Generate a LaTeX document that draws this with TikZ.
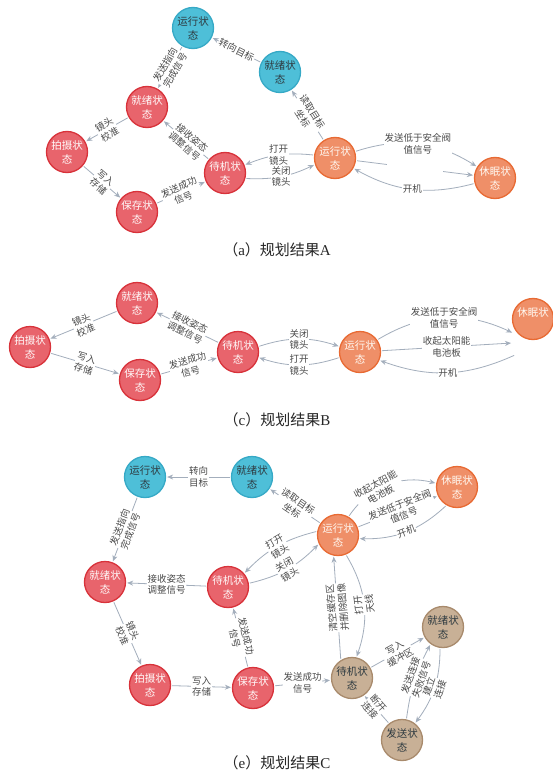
\documentclass[tikz,border=0pt]{standalone}
\usepackage{fontspec}
\setmainfont{Liberation Serif}
\newfontfamily\cjk{Noto Sans CJK SC}
\usetikzlibrary{arrows.meta}
\definecolor{tealF}{HTML}{4EBFD8}
\definecolor{tealB}{HTML}{36A9C6}
\definecolor{redF}{HTML}{E8646C}
\definecolor{redB}{HTML}{D8323A}
\definecolor{orgF}{HTML}{EF8F68}
\definecolor{orgB}{HTML}{E86A33}
\definecolor{tanF}{HTML}{C8B096}
\definecolor{tanB}{HTML}{A88A6C}
\definecolor{edgeC}{HTML}{A3AEBC}
\definecolor{labC}{HTML}{4A4A4A}
\definecolor{txtD}{HTML}{2E3A40}
\begin{document}
\begin{tikzpicture}[x=1pt,y=-1pt,
  st/.style={circle,minimum size=41pt,inner sep=0pt,line width=1.3pt,align=center,
    font=\cjk\fontsize{10.5}{14}\selectfont},
  tealn/.style={st,fill=tealF,draw=tealB,text=txtD},
  redn/.style={st,fill=redF,draw=redB,text=white!92!pink},
  orgn/.style={st,fill=orgF,draw=orgB,text=white!95!orange},
  tann/.style={st,fill=tanF,draw=tanB,text=txtD},
  edge/.style={draw=edgeC,line width=0.8pt,-{Stealth[length=6pt,width=5pt]},shorten >=1pt,shorten <=1pt},
  lab/.style={fill=white,inner sep=0.8pt,align=center,text=labC,
    font=\cjk\fontsize{9.5}{11.5}\selectfont},
  captxt/.style={text=black!85,font=\fontsize{15}{18}\selectfont}]
\useasboundingbox (0,0) rectangle (552,781);
\fill[white] (0,0) rectangle (552,781);

% ---------- panel (a)
\node[tealn] (a1) at (193,28) {运行状\\态};
\node[tealn] (a2) at (280,72) {就绪状\\态};
\node[redn] (a3) at (147,107) {就绪状\\态};
\node[redn] (a4) at (67,152) {拍摄状\\态};
\node[redn] (a5) at (137,212) {保存状\\态};
\node[redn] (a6) at (225,173) {待机状\\态};
\node[orgn] (a7) at (335,158) {运行状\\态};
\node[orgn] (a8) at (495,178) {休眠状\\态};

\draw[edge] (a2) -- node[lab,sloped]{转向目标} (a1);
\draw[edge] (a1) -- node[lab,sloped]{发送指向\\完成信号} (a3);
\draw[edge] (a3) -- node[lab,sloped]{镜头\\校准} (a4);
\draw[edge] (a4) -- node[lab,sloped]{写入\\存储} (a5);
\draw[edge] (a5) -- node[lab,sloped]{发送成功\\信号} (a6);
\draw[edge] (a6) -- node[lab,sloped,pos=0.45]{接收姿态\\调整信号} (a3);
\draw[edge] (a7.172) to[bend right=14] node[lab]{打开\\镜头} (a6.22);
\draw[edge] (a6.345) to[bend right=14] node[lab]{关闭\\镜头} (a7.198);
\draw[edge] (a7) -- node[lab,sloped]{读取目标\\坐标} (a2);
\draw[edge] (a7) to[bend left=25] node[lab]{发送低于安全阀\\值信号} (a8);
\draw[edge] (a7) -- node[fill=white,minimum width=56pt,minimum height=8pt,inner sep=0pt]{} (a8);
\draw[edge] (a8) to[bend left=22] node[lab]{开机} (a7);

\node[captxt] (capa) at (277,250) {{\cjk （}a{\cjk ）规划结果}A};

% ---------- panel (c)
\node[redn] (c1) at (137,303) {就绪状\\态};
\node[redn] (c2) at (30,347) {拍摄状\\态};
\node[redn] (c3) at (140,380) {保存状\\态};
\node[redn] (c4) at (238,352) {待机状\\态};
\node[orgn] (c5) at (360,352) {运行状\\态};
\node[orgn] (c6) at (533,319) {休眠状\\\phantom{态}};
\coordinate (c6a) at (513,333);
\coordinate (c6b) at (512,343);
\coordinate (c6c) at (515,355);

\draw[edge] (c1) -- node[lab,sloped]{镜头\\校准} (c2);
\draw[edge] (c2) -- node[lab,sloped]{写入\\存储} (c3);
\draw[edge] (c3) -- node[lab,sloped]{发送成功\\信号} (c4);
\draw[edge] (c4) -- node[lab,sloped]{接收姿态\\调整信号} (c1);
\draw[edge] (c4.15) to[bend left=18] node[lab]{关闭\\镜头} (c5.165);
\draw[edge] (c5.195) to[bend left=18] node[lab]{打开\\镜头} (c4.345);
\draw[edge] (c5) to[bend left=28] node[lab]{发送低于安全阀\\值信号} (c6a);
\draw[edge] (c5) -- node[lab]{收起太阳能\\电池板} (c6b);
\draw[edge] (c6c) to[bend left=22] node[lab]{开机} (c5);

\node[captxt] (capc) at (277,420) {{\cjk （}c{\cjk ）规划结果}B};

% ---------- panel (e)
\node[tealn] (e1) at (145,477) {运行状\\态};
\node[tealn] (e2) at (252,477) {就绪状\\态};
\node[orgn] (e3) at (338,535) {运行状\\态};
\node[orgn] (e4) at (457,487) {休眠状\\态};
\node[redn] (e5) at (105,582) {就绪状\\态};
\node[redn] (e6) at (228,587) {待机状\\态};
\node[redn] (e7) at (150,685) {拍摄状\\态};
\node[redn] (e8) at (253,688) {保存状\\态};
\node[tann] (e9) at (352,678) {待机状\\态};
\node[tann] (e10) at (443,627) {就绪状\\态};
\node[tann] (e11) at (402,740) {发送状\\态};

\draw[edge] (e2) -- node[lab]{转向\\目标} (e1);
\draw[edge] (e1) -- node[lab,sloped]{发送指向\\完成信号} (e5);
\draw[edge] (e3) -- node[lab,sloped]{读取目标\\坐标} (e2);
\draw[edge] (e3.60) to[bend left=35] node[lab,sloped,pos=0.4]{收起太阳能\\电池板} (e4.170);
\draw[edge] (e3.22) -- node[lab,sloped,pos=0.55]{发送低于安全阀\\值信号} (e4.205);
\draw[edge] (e4.240) to[bend left=22] node[lab,sloped]{开机} (e3.350);
\draw[edge] (e3.170) to[bend right=16] node[lab,sloped]{打开\\镜头} (e6.40);
\draw[edge] (e6.10) to[bend right=16] node[lab,sloped]{关闭\\镜头} (e3.205);
\draw[edge] (e6) -- node[lab]{接收姿态\\调整信号} (e5);
\draw[edge] (e5) -- node[lab,sloped]{镜头\\校准} (e7);
\draw[edge] (e7) -- node[lab]{写入\\存储} (e8);
\draw[edge] (e8) -- node[lab,sloped]{发送成功\\信号} (e6);
\draw[edge] (e8) -- node[lab]{发送成功\\信号} (e9);
\draw[edge] (e9.122) -- node[lab,rotate=95]{清空缓存区\\并删除图像} (e3.258);
\draw[edge] (e3.292) to[bend left=25] node[lab,rotate=97]{打开\\天线} (e9.78);
\draw[edge] (e9) -- node[lab,sloped]{写入\\缓冲区} (e10);
\draw[edge] (e11.78) to[bend left=10] node[lab,sloped,pos=0.55]{发送连接\\失败信号} (e10.234);
\draw[edge] (e10.262) to[bend left=18] node[lab,sloped]{建立\\连接} (e11.52);
\draw[edge] (e11.128) -- node[lab,sloped,pos=0.6]{断开\\连接} (e9.305);

\node[captxt] (cape) at (277,763) {{\cjk （}e{\cjk ）规划结果}C};
\end{tikzpicture}
\end{document}
